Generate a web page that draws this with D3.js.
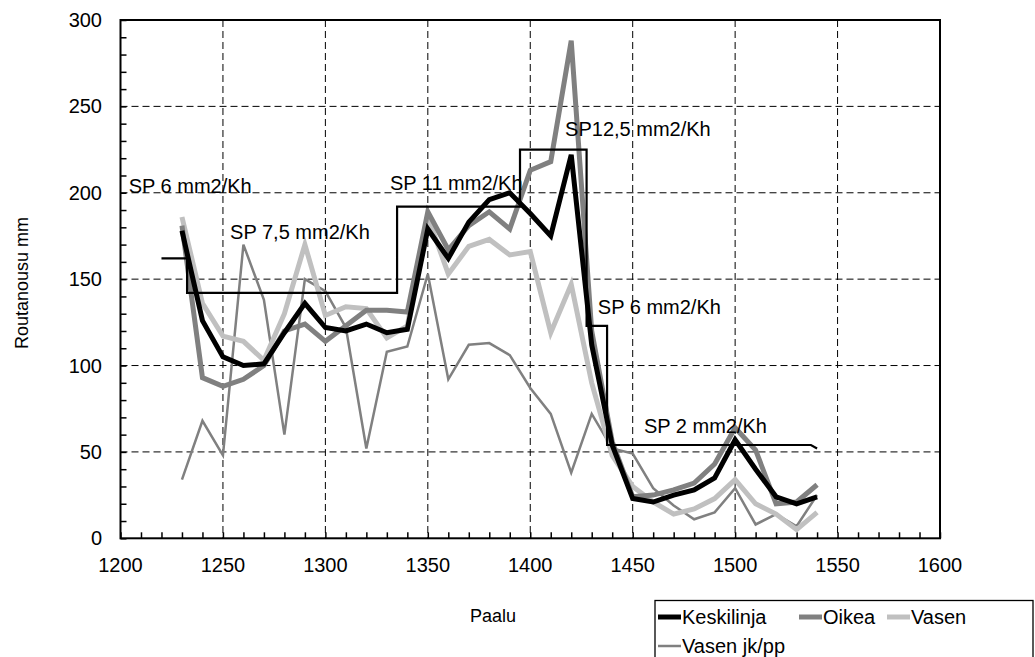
<!DOCTYPE html>
<html>
<head>
<meta charset="utf-8">
<script src="https://cdn.jsdelivr.net/npm/d3@7"></script>
<style>
  html, body { margin: 0; padding: 0; background: #fff; }
  svg { display: block; }
  text { font-family: "Liberation Sans", Arial, sans-serif; fill: #000; }
</style>
</head>
<body>
<svg id="chart" width="1035" height="657"></svg>
<script>
// ---- data ----
const paalu = [1230,1240,1250,1260,1270,1280,1290,1300,1310,1320,1330,1340,1350,1360,1370,1380,1390,1400,1410,1420,1430,1440,1450,1460,1470,1480,1490,1500,1510,1520,1530,1540];
const keskilinja = [178,126,105,100,101,119,136,122,120,124,119,121,179,162,183,196,200,188,175,222,112,54,23,21,25,28,35,57,40,24,20,24];
const oikea      = [181,93,88,92,100,120,124,114,123,132,132,131,189,167,181,189,179,213,218,288,120,56,24,25,28,32,43,64,51,20,21,31];
const vasen      = [186,136,117,114,103,130,170,129,134,133,116,123,186,153,169,173,164,166,119,147,90,48,30,21,14,17,23,34,20,14,5,15];
const vasenJkpp  = [34,68,48,170,138,60,150,143,122,52,108,111,153,92,112,113,106,87,72,38,72,52,49,29,19,11,15,29,8,14,7,25];
const stepX = [1220,1232.5,1232.5,1335,1335,1395,1395,1427.5,1427.5,1437.5,1437.5,1537,1540];
const stepY = [162,162,142,142,192,192,225,225,123,123,54,54,52];
const annoText = ["SP 6 mm2/Kh","SP 7,5 mm2/Kh","SP 11 mm2/Kh","SP12,5 mm2/Kh","SP 6 mm2/Kh","SP 2 mm2/Kh"];
const annoX = [1204,1253.5,1331.5,1417,1433,1455.5];
const annoY = [200,173,201.5,233,130,61];
const xTicks = [1200,1250,1300,1350,1400,1450,1500,1550,1600];
const yTicks = [0,50,100,150,200,250,300];
const seriesNames = ["Keskilinja","Oikea","Vasen","Vasen jk/pp"];

// ---- layout ----
const svg = d3.select("#chart");
const L = 120.5, R = 940, T = 20, B = 538.3;
const x = d3.scaleLinear().domain([1200,1600]).range([L,R]);
const y = d3.scaleLinear().domain([0,300]).range([B,T]);

// gridlines
const grid = svg.append("g");
grid.selectAll("line.gx").data(xTicks.slice(1,-1)).join("line")
  .attr("x1", d=>x(d)).attr("x2", d=>x(d)).attr("y1", T).attr("y2", B)
  .attr("stroke", "#000").attr("stroke-width", 1).attr("stroke-dasharray", "7,4");
grid.selectAll("line.gy").data(yTicks.slice(1,-1)).join("line")
  .attr("x1", L).attr("x2", R).attr("y1", d=>y(d)).attr("y2", d=>y(d))
  .attr("stroke", "#000").attr("stroke-width", 1).attr("stroke-dasharray", "7,4");

// axes with inside minor ticks
const xAxis = d3.axisBottom(x).tickValues(d3.range(1200,1601,10)).tickSize(-6).tickFormat("");
const yAxis = d3.axisLeft(y).tickValues(d3.range(0,301,10)).tickSize(-6).tickFormat("");
const gx = svg.append("g").attr("transform", `translate(0,${B})`).call(xAxis);
const gy = svg.append("g").attr("transform", `translate(${L},0)`).call(yAxis);
[gx, gy].forEach(g => {
  g.select(".domain").remove();
  g.selectAll(".tick line").attr("stroke", "#000").attr("stroke-width", 1.5);
});

// tick labels
svg.append("g").selectAll("text").data(xTicks).join("text")
  .attr("x", d=>x(d)).attr("y", 572).attr("text-anchor","middle")
  .attr("font-size", 20).text(d=>d);
svg.append("g").selectAll("text").data(yTicks).join("text")
  .attr("x", 102).attr("y", d=>y(d)+7).attr("text-anchor","end")
  .attr("font-size", 20).text(d=>d);

// axis titles
svg.append("text").attr("x", 493).attr("y", 622).attr("text-anchor","middle")
  .attr("font-size", 18).text("Paalu");
svg.append("text").attr("transform", "translate(28,283) rotate(-90)")
  .attr("text-anchor","middle").attr("font-size", 18).text("Routanousu mm");

// series
const line = d3.line().x((d,i)=>x(paalu[i])).y(d=>y(d));
const styles = [
  {data: vasenJkpp, color: "#808080", w: 2.5},
  {data: vasen, color: "#c0c0c0", w: 5},
  {data: oikea, color: "#808080", w: 5},
  {data: keskilinja, color: "#000000", w: 5}
];
svg.append("g").selectAll("path").data(styles).join("path")
  .attr("d", s=>line(s.data)).attr("fill","none")
  .attr("stroke", s=>s.color).attr("stroke-width", s=>s.w)
  .attr("stroke-linejoin","miter").attr("stroke-miterlimit", 4);

// step line
const stepLine = d3.line().x((d,i)=>x(stepX[i])).y(d=>y(d));
svg.append("path").attr("d", stepLine(stepY)).attr("fill","none")
  .attr("stroke","#000").attr("stroke-width",2.2);

// plot border
svg.append("rect").attr("x", L).attr("y", T).attr("width", R-L).attr("height", B-T)
  .attr("fill","none").attr("stroke","#000").attr("stroke-width",2);

// annotations
svg.append("g").selectAll("text").data(annoText).join("text")
  .attr("x", (d,i)=>x(annoX[i])).attr("y", (d,i)=>y(annoY[i]))
  .attr("font-size", 20).text(d=>d);

// legend
const lg = svg.append("g");
lg.append("rect").attr("x", 655).attr("y", 600.5).attr("width", 378).attr("height", 70)
  .attr("fill","#fff").attr("stroke","#000").attr("stroke-width",1.3);
const legendPos = [[658,617],[799,617],[887,617],[658,646]];
const legendStyle = [
  {color:"#000", w:5},{color:"#808080", w:5},{color:"#c0c0c0", w:5},{color:"#808080", w:2.5}
];
seriesNames.forEach((n,i)=>{
  const [lx,ly] = legendPos[i];
  lg.append("line").attr("x1",lx).attr("x2",lx+23).attr("y1",ly).attr("y2",ly)
    .attr("stroke",legendStyle[i].color).attr("stroke-width",legendStyle[i].w);
  lg.append("text").attr("x",lx+24).attr("y",ly+7).attr("font-size",20).text(n);
});
</script>
</body>
</html>
